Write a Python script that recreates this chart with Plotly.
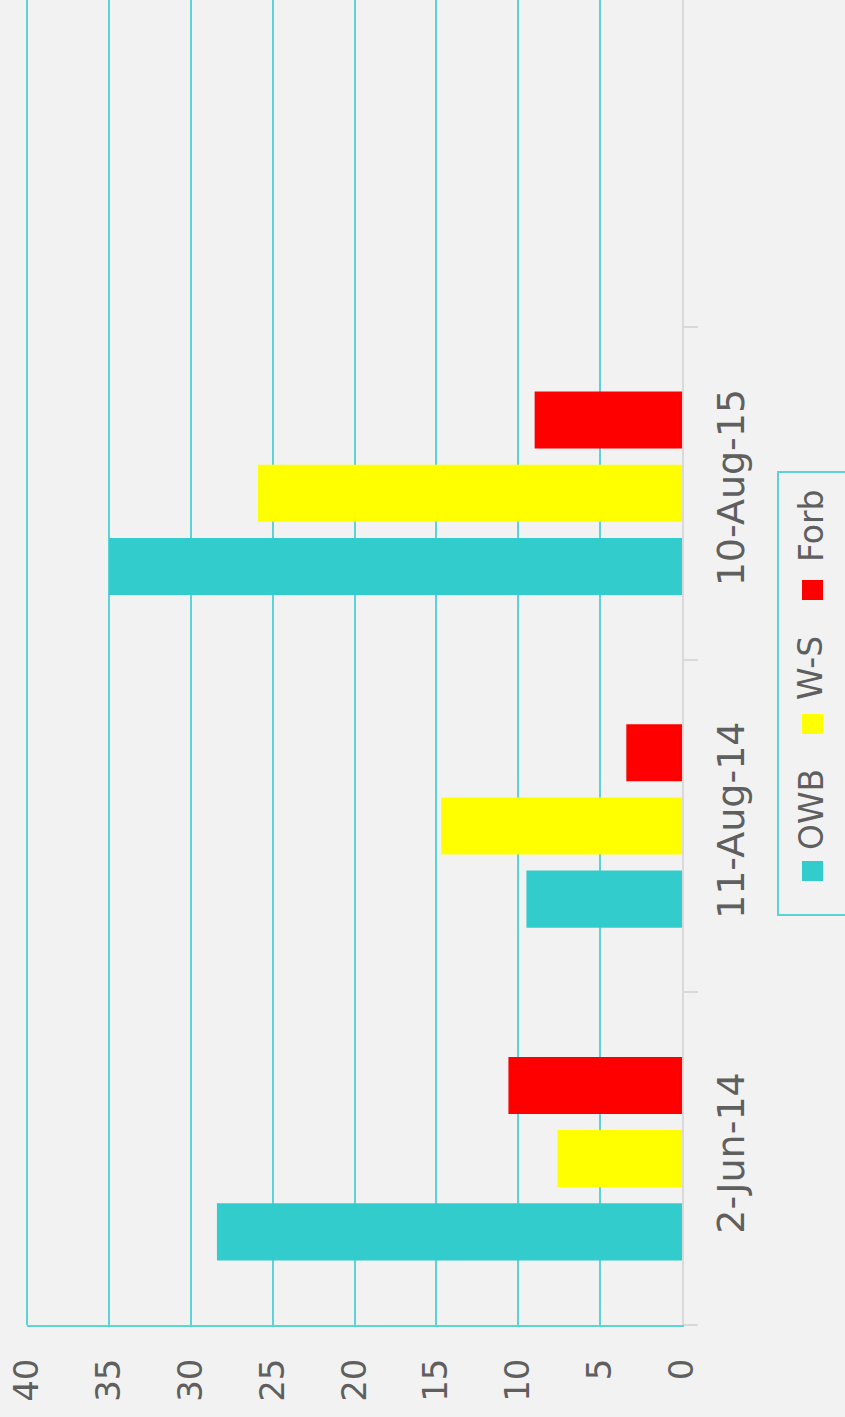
import plotly.graph_objects as go

categories = ["2-Jun-14", "11-Aug-14", "10-Aug-15"]
owb = [28.4, 9.5, 35.0]
ws = [7.6, 14.7, 25.9]
forb = [10.6, 3.4, 9.0]
series_names = ["OWB", "W-S", "Forb"]
series_colors = ["#33CCCC", "#FFFF00", "#FF0000"]
value_ticks = [0, 5, 10, 15, 20, 25, 30, 35, 40]
value_max = 40

W, H = 845, 1417
PL, PR, PT, PB = 27, 682, 0, 1325


def px(x):
    return (x - PL) / (PR - PL)


def py(y):
    return (PB - y) / (PB - PT)


fig = go.Figure()
for name, vals, col in zip(series_names, [owb, ws, forb], series_colors):
    fig.add_trace(go.Bar(
        x=vals, y=categories, orientation="h", name=name,
        marker=dict(color=col, line=dict(width=0)), showlegend=False,
    ))

grid_col = "#5CD3D6"
axis_grey = "#D9D9D9"
tick_font = dict(family="DejaVu Sans", size=34, color="#5F5F5F")

fig.update_layout(
    width=W, height=H,
    margin=dict(l=PL, r=W - PR, t=PT, b=H - PB),
    paper_bgcolor="#F2F2F2", plot_bgcolor="#F2F2F2",
    barmode="group", bargap=0.34, bargroupgap=0.22,
    xaxis=dict(
        range=[value_max, 0], tickvals=value_ticks, ticktext=[str(v) for v in value_ticks],
        tickangle=-90, tickfont=tick_font, showgrid=True, gridcolor=grid_col, gridwidth=2,
        zeroline=False, showline=True, linecolor=grid_col, linewidth=2,
        ticks="", ticklabelstandoff=18,
    ),
    yaxis=dict(
        type="category", categoryorder="array", categoryarray=categories,
        range=[-0.5, -0.5 + 1325 / 332.7], side="right", tickangle=-90,
        tickfont=dict(family="DejaVu Sans", size=38, color="#5F5F5F"),
        showgrid=False, zeroline=False, showline=True, linecolor=axis_grey, linewidth=2,
        ticks="outside", tickson="boundaries", ticklen=14, tickcolor=axis_grey, tickwidth=2,
        ticklabelstandoff=14,
    ),
)

# Edge gridline at the axis maximum (left edge of the reversed value axis)
shapes = [dict(type="line", xref="paper", yref="paper", x0=0, x1=0, y0=0, y1=1,
               line=dict(color=grid_col, width=2), layer="below")]
# Rotated legend drawn manually
shapes.append(dict(type="rect", xref="paper", yref="paper",
                   x0=px(778), x1=px(850), y0=py(915), y1=py(472),
                   line=dict(color=grid_col, width=2), fillcolor="rgba(0,0,0,0)"))
marker_y = [871, 724, 590]
text_y = [810, 668, 526]
annotations = []
for name, col, my, ty in zip(series_names, series_colors, marker_y, text_y):
    shapes.append(dict(type="rect", xref="paper", yref="paper",
                       x0=px(802), x1=px(823), y0=py(my + 10), y1=py(my - 10),
                       line=dict(width=0), fillcolor=col))
    annotations.append(dict(text=name, xref="paper", yref="paper", x=px(811), y=py(ty),
                            xanchor="center", yanchor="middle", textangle=-90, showarrow=False,
                            font=dict(family="DejaVu Sans", size=33, color="#5F5F5F")))
fig.update_layout(shapes=shapes, annotations=annotations)

fig.write_html("out.html")
